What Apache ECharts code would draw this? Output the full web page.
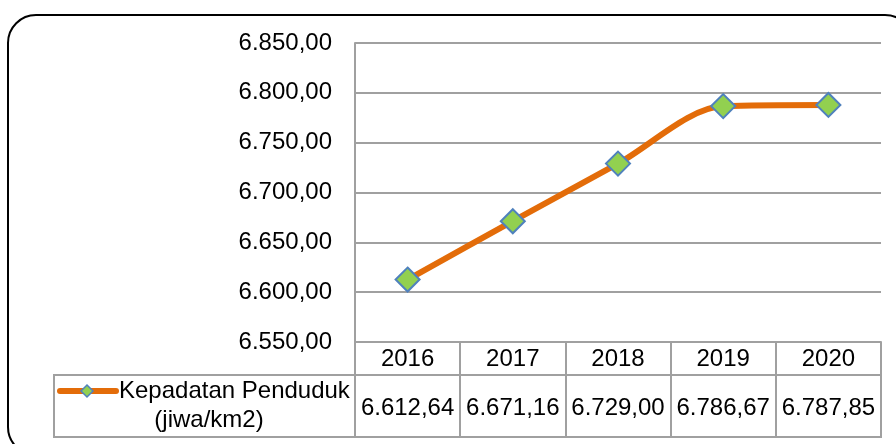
<!DOCTYPE html>
<html>
<head>
<meta charset="utf-8">
<script src="https://cdn.jsdelivr.net/npm/echarts@6/dist/echarts.min.js"></script>
<style>
  html, body { margin: 0; padding: 0; background: #fff; }
  #chart { width: 896px; height: 444px; }
</style>
</head>
<body>
<div id="chart"></div>
<script>
// data
const years = ['2016', '2017', '2018', '2019', '2020'];
const kepadatan = [6612.64, 6671.16, 6729.00, 6786.67, 6787.85];
const seriesName = 'Kepadatan Penduduk';
const seriesUnit = '(jiwa/km2)';

// 6612.64 -> "6.612,64"
function fmt(v) {
  const parts = v.toFixed(2).split('.');
  return parts[0].replace(/\B(?=(\d{3})+(?!\d))/g, '.') + ',' + parts[1];
}

const gridColor = '#a0a0a0';
const font = 'Liberation Sans, Arial, sans-serif';
const fs = 24;

let myChart = echarts.init(document.getElementById('chart'));

let option = {
  animation: false,
  grid: { left: 355, right: 15, top: 43, bottom: 102 },
  xAxis: [
    {
      type: 'category',
      data: years,
      axisLine: { lineStyle: { color: gridColor, width: 2 } },
      axisTick: { show: true, length: 95, lineStyle: { color: gridColor, width: 2 } },
      axisLabel: { color: '#000', fontSize: fs, fontFamily: font, margin: 5, interval: 0 }
    },
    {
      type: 'category',
      position: 'bottom',
      offset: 33,
      data: kepadatan.map(fmt),
      axisLine: { lineStyle: { color: gridColor, width: 2 } },
      axisTick: { show: false },
      axisLabel: { color: '#000', fontSize: fs, fontFamily: font, margin: 21, interval: 0, hideOverlap: false }
    }
  ],
  yAxis: {
    type: 'value',
    min: 6550,
    max: 6850,
    interval: 50,
    axisLine: { show: true, lineStyle: { color: gridColor, width: 2 } },
    axisTick: { show: false },
    splitLine: { lineStyle: { color: gridColor, width: 2 } },
    axisLabel: { color: '#000', fontSize: fs, fontFamily: font, margin: 23, formatter: fmt }
  },
  series: [
    {
      name: seriesName,
      type: 'line',
      data: kepadatan,
      smooth: 0.3,
      symbol: 'diamond',
      symbolSize: 24,
      lineStyle: { color: '#e36c09', width: 6 },
      itemStyle: { color: '#92d050', borderColor: '#4f81bd', borderWidth: 2 }
    }
  ],
  graphic: [
    // outer rounded frame
    { type: 'rect', shape: { x: 8, y: 15, width: 905, height: 440, r: 28 },
      style: { fill: 'none', stroke: '#000', lineWidth: 2 }, silent: true },
    // data table: legend cell
    { type: 'line', shape: { x1: 54, y1: 375, x2: 355, y2: 375 }, style: { stroke: gridColor, lineWidth: 2 } },
    { type: 'line', shape: { x1: 54, y1: 437, x2: 882, y2: 437 }, style: { stroke: gridColor, lineWidth: 2 } },
    { type: 'line', shape: { x1: 54, y1: 374, x2: 54, y2: 438 }, style: { stroke: gridColor, lineWidth: 2 } },
    // legend key
    { type: 'line', shape: { x1: 60, y1: 391, x2: 116, y2: 391 },
      style: { stroke: '#e36c09', lineWidth: 6, lineCap: 'round' } },
    { type: 'polygon', shape: { points: [[87, 385], [93, 391], [87, 397], [81, 391]] },
      style: { fill: '#92d050', stroke: '#4f81bd', lineWidth: 1.5 } },
    { type: 'text', left: 119, top: 379,
      style: { text: seriesName, fill: '#000', font: fs + 'px ' + font } },
    { type: 'text', x: 209, y: 408,
      style: { text: seriesUnit, fill: '#000', font: fs + 'px ' + font, textAlign: 'center' } }
  ]
};

myChart.setOption(option);
</script>
</body>
</html>
